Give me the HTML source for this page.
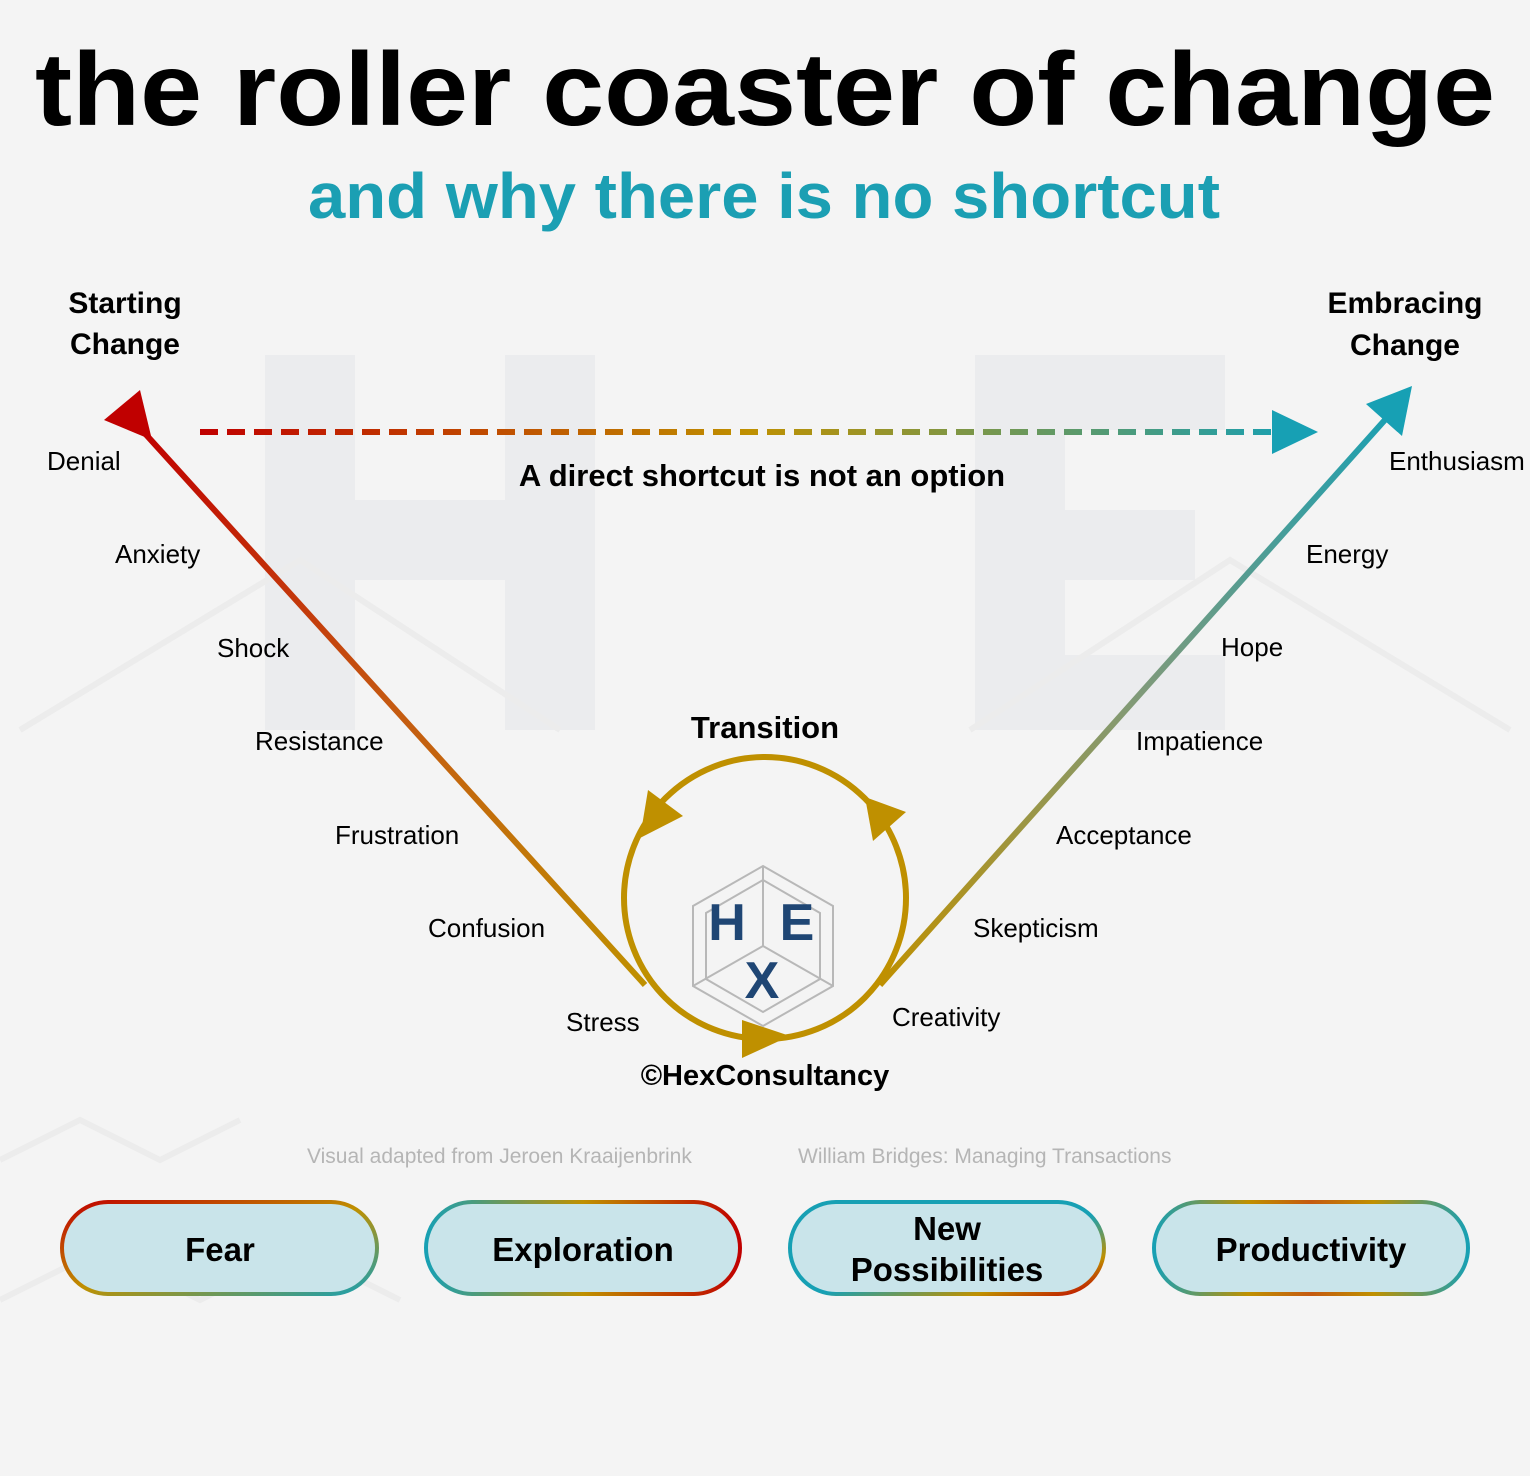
<!DOCTYPE html>
<html><head><meta charset="utf-8"><style>
html,body{margin:0;padding:0;background:#f4f4f4}
svg{display:block}
text{font-family:"Liberation Sans","DejaVu Sans",sans-serif}
</style></head><body>
<svg width="1530" height="1476" viewBox="0 0 1530 1476" xmlns="http://www.w3.org/2000/svg">
<defs>
<linearGradient id="gl" x1="140" y1="428" x2="645" y2="985" gradientUnits="userSpaceOnUse">
<stop offset="0" stop-color="#c00000"/><stop offset="0.5" stop-color="#c55a11"/><stop offset="1" stop-color="#bf9000"/></linearGradient>
<linearGradient id="gr" x1="880" y1="985" x2="1400" y2="400" gradientUnits="userSpaceOnUse">
<stop offset="0" stop-color="#bf9000"/><stop offset="0.5" stop-color="#7f9a7a"/><stop offset="1" stop-color="#17a0b4"/></linearGradient>
<linearGradient id="gd" x1="200" y1="0" x2="1300" y2="0" gradientUnits="userSpaceOnUse">
<stop offset="0" stop-color="#c00000"/><stop offset="0.5" stop-color="#bf9000"/><stop offset="1" stop-color="#17a0b4"/></linearGradient>
<linearGradient id="p1" x1="0" y1="0" x2="1" y2="1">
<stop offset="0" stop-color="#c00000"/><stop offset="0.5" stop-color="#bf9000"/><stop offset="1" stop-color="#17a0b4"/></linearGradient>
<linearGradient id="p2" x1="0" y1="0" x2="1" y2="0">
<stop offset="0" stop-color="#17a0b4"/><stop offset="0.5" stop-color="#bf9000"/><stop offset="1" stop-color="#c00000"/></linearGradient>
<linearGradient id="p3" x1="0" y1="0" x2="1" y2="1">
<stop offset="0" stop-color="#17a0b4"/><stop offset="0.55" stop-color="#17a0b4"/><stop offset="0.8" stop-color="#bf9000"/><stop offset="1" stop-color="#c00000"/></linearGradient>
<linearGradient id="p4" x1="0" y1="0" x2="1" y2="0">
<stop offset="0" stop-color="#17a0b4"/><stop offset="0.3" stop-color="#bf9000"/><stop offset="0.5" stop-color="#c55a11"/><stop offset="0.7" stop-color="#bf9000"/><stop offset="1" stop-color="#17a0b4"/></linearGradient>
</defs>
<rect width="1530" height="1476" fill="#f4f4f4"/>
<g fill="#ebecee">
<rect x="265" y="355" width="90" height="375"/><rect x="505" y="355" width="90" height="375"/><rect x="265" y="500" width="330" height="80"/>
<rect x="975" y="355" width="90" height="375"/><rect x="975" y="355" width="250" height="75"/><rect x="975" y="510" width="220" height="70"/><rect x="975" y="655" width="250" height="75"/>
</g>
<g stroke="#ececec" stroke-width="6" fill="none">
<path d="M20 730 L300 560 L560 730"/><path d="M970 730 L1230 560 L1510 730"/>
<path d="M0 1160 L80 1120 L160 1160 L240 1120"/><path d="M0 1300 L100 1250 L200 1300 L300 1250 L400 1300"/>
</g>
<text x="35" y="125" font-size="104" font-weight="bold" fill="#000" textLength="1460" lengthAdjust="spacingAndGlyphs">the roller coaster of change</text>
<text x="308" y="218" font-size="64" font-weight="bold" fill="#1b9fb3" textLength="912" lengthAdjust="spacingAndGlyphs">and why there is no shortcut</text>
<g font-size="30" font-weight="bold" fill="#000" text-anchor="middle">
<text x="125" y="313">Starting</text><text x="125" y="354">Change</text>
<text x="1405" y="313">Embracing</text><text x="1405" y="355">Change</text>
</g>
<line x1="140" y1="428" x2="645" y2="985" stroke="url(#gl)" stroke-width="6"/>
<polygon points="104,420 140,390 152,440" fill="#c00000"/>
<line x1="880" y1="985" x2="1392" y2="412" stroke="url(#gr)" stroke-width="6"/>
<polygon points="1412,386 1402,436 1366,404" fill="#17a0b4"/>
<line x1="200" y1="432" x2="1275" y2="432" stroke="url(#gd)" stroke-width="6" stroke-dasharray="18,9"/>
<polygon points="1318,432 1272,410 1272,454" fill="#17a0b4"/>
<text x="762" y="486" font-size="31" font-weight="bold" text-anchor="middle" fill="#000">A direct shortcut is not an option</text>
<g font-size="26" fill="#000">
<text x="47" y="470">Denial</text><text x="115" y="563">Anxiety</text><text x="217" y="657">Shock</text>
<text x="255" y="750">Resistance</text><text x="335" y="844">Frustration</text><text x="428" y="937">Confusion</text>
<text x="566" y="1031">Stress</text>
<text x="1389" y="470">Enthusiasm</text><text x="1306" y="563">Energy</text><text x="1221" y="656">Hope</text>
<text x="1136" y="750">Impatience</text><text x="1056" y="844">Acceptance</text><text x="973" y="937">Skepticism</text>
<text x="892" y="1026">Creativity</text>
</g>
<text x="765" y="738" font-size="31" font-weight="bold" text-anchor="middle" fill="#000">Transition</text>
<circle cx="765" cy="898" r="141" fill="none" stroke="#bf9000" stroke-width="6"/>
<polygon points="648,790 683,816 640,838" fill="#bf9000"/>
<polygon points="865,797 906,812 873,841" fill="#bf9000"/>
<polygon points="742,1020 790,1036 742,1058" fill="#bf9000"/>
<g stroke="#b8b8b8" stroke-width="2" fill="none">
<polygon points="763,866 833,906 833,986 763,1026 693,986 693,906"/>
<polygon points="763,880 820,913 820,979 763,1012 706,979 706,913"/>
<line x1="763" y1="866" x2="763" y2="946"/><line x1="763" y1="946" x2="693" y2="986"/><line x1="763" y1="946" x2="833" y2="986"/>
</g>
<g font-size="52" font-weight="bold" fill="#1f4674" text-anchor="middle">
<text x="727" y="940">H</text><text x="797" y="940">E</text><text x="762" y="998">X</text>
</g>
<text x="765" y="1085" font-size="29" font-weight="bold" text-anchor="middle" fill="#000">©HexConsultancy</text>
<g font-size="21" fill="#b5b5b5">
<text x="307" y="1163">Visual adapted from Jeroen Kraaijenbrink</text>
<text x="798" y="1163">William Bridges: Managing Transactions</text>
</g>
<g stroke-width="4" fill="#c9e4ea">
<rect x="62" y="1202" width="315" height="92" rx="46" stroke="url(#p1)"/>
<rect x="426" y="1202" width="314" height="92" rx="46" stroke="url(#p2)"/>
<rect x="790" y="1202" width="314" height="92" rx="46" stroke="url(#p3)"/>
<rect x="1154" y="1202" width="314" height="92" rx="46" stroke="url(#p4)"/>
</g>
<g font-size="33" font-weight="bold" fill="#000" text-anchor="middle">
<text x="220" y="1261">Fear</text>
<text x="583" y="1261">Exploration</text>
<text x="947" y="1240">New</text><text x="947" y="1281">Possibilities</text>
<text x="1311" y="1261">Productivity</text>
</g>
</svg>
</body></html>
